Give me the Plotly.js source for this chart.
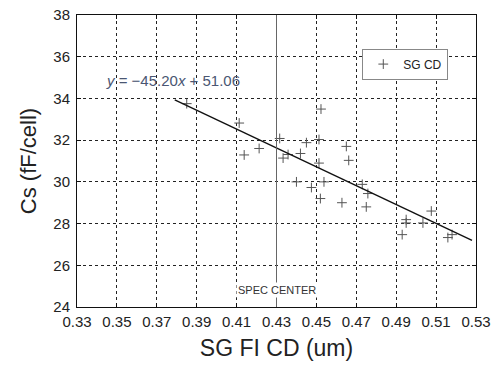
<!DOCTYPE html>
<html>
<head>
<meta charset="utf-8">
<script src="https://cdn.plot.ly/plotly-3.0.1.min.js"></script>
<style>
html,body{margin:0;padding:0;background:#fff;}
#chart{width:492px;height:365px;}
</style>
</head>
<body>
<div id="chart"></div>
<script>
// Data
const cdX = [0.385, 0.4113, 0.4138, 0.4213, 0.4316, 0.4333, 0.4358, 0.442, 0.445, 0.4513,
             0.4523, 0.4513, 0.465, 0.4662, 0.440, 0.4538, 0.4475, 0.452, 0.4628, 0.473,
             0.4758, 0.475, 0.495, 0.495, 0.493, 0.5034, 0.5076, 0.5159, 0.518];
const csY = [33.75, 32.82, 31.29, 31.60, 32.08, 31.14, 31.31, 31.36, 31.88, 32.03,
             33.49, 30.90, 31.70, 31.03, 30.00, 30.00, 29.73, 29.20, 29.00, 29.88,
             29.44, 28.80, 28.19, 28.03, 27.47, 28.03, 28.60, 27.33, 27.47];
const fitSlope = -45.20;
const fitIntercept = 51.06;
const fitRange = [0.379, 0.528];
const specCenter = 0.43;
const xTicks = [0.33, 0.35, 0.37, 0.39, 0.41, 0.43, 0.45, 0.47, 0.49, 0.51, 0.53];
const yTicks = [24, 26, 28, 30, 32, 34, 36, 38];

const fitY = fitRange.map(x => fitSlope * x + fitIntercept);

const traces = [
  {
    x: cdX, y: csY, type: 'scatter', mode: 'markers', name: 'SG CD',
    marker: {symbol: 'cross-thin-open', size: 7, color: '#555', line: {color: '#555', width: 1}},
    cliponaxis: false
  },
  {
    x: fitRange, y: fitY, type: 'scatter', mode: 'lines', showlegend: false,
    line: {color: '#111', width: 1.4}, hoverinfo: 'skip'
  }
];

const axisCommon = {
  showline: true, linecolor: '#111', linewidth: 1, mirror: 'ticks',
  ticks: 'inside', ticklen: 4, tickcolor: '#111',
  showgrid: true, gridcolor: '#222', griddash: 'dot', gridwidth: 1,
  zeroline: false,
  tickfont: {family: 'Liberation Sans, Arial, sans-serif', size: 15, color: '#222'}
};

const layout = {
  width: 492, height: 365,
  margin: {l: 77, r: 16, t: 15, b: 58},
  paper_bgcolor: '#fff', plot_bgcolor: '#fff',
  font: {family: 'Liberation Sans, Arial, sans-serif', color: '#222'},
  xaxis: Object.assign({}, axisCommon, {
    range: [0.33, 0.53], tickvals: xTicks, ticktext: xTicks.map(v => v.toFixed(2)),
    ticklabelstandoff: 1,
    title: {text: 'SG FI CD (um)', font: {size: 23, color: '#222'}, standoff: 10}
  }),
  yaxis: Object.assign({}, axisCommon, {
    range: [24, 38], tickvals: yTicks, ticktext: yTicks.map(String),
    ticklabelstandoff: 3,
    title: {text: 'Cs (fF/cell)', font: {size: 22, color: '#222'}, standoff: 10}
  }),
  showlegend: true,
  legend: {
    x: 0.715, y: 0.885, xanchor: 'left', yanchor: 'top',
    bgcolor: '#fff', bordercolor: '#888', borderwidth: 1,
    font: {size: 12, color: '#222'},
    itemwidth: 30
  },
  shapes: [
    {type: 'line', xref: 'x', yref: 'paper', x0: specCenter, x1: specCenter, y0: 0, y1: 1,
     line: {color: '#666', width: 1}}
  ],
  annotations: [
    {xref: 'paper', yref: 'paper', x: 0.067, y: 0.777, xanchor: 'left', yanchor: 'middle',
     showarrow: false,
     text: '<i>y</i> = \u221245.20<i>x</i> + 51.06',
     font: {size: 15, color: '#4a5672'}},
    {xref: 'x', yref: 'paper', x: specCenter, y: 0.058, xanchor: 'center', yanchor: 'middle',
     showarrow: false, text: 'SPEC CENTER', bgcolor: '#fff',
     font: {size: 11, color: '#333'}}
  ]
};

Plotly.newPlot('chart', traces, layout, {displayModeBar: false, staticPlot: true});
</script>
</body>
</html>
